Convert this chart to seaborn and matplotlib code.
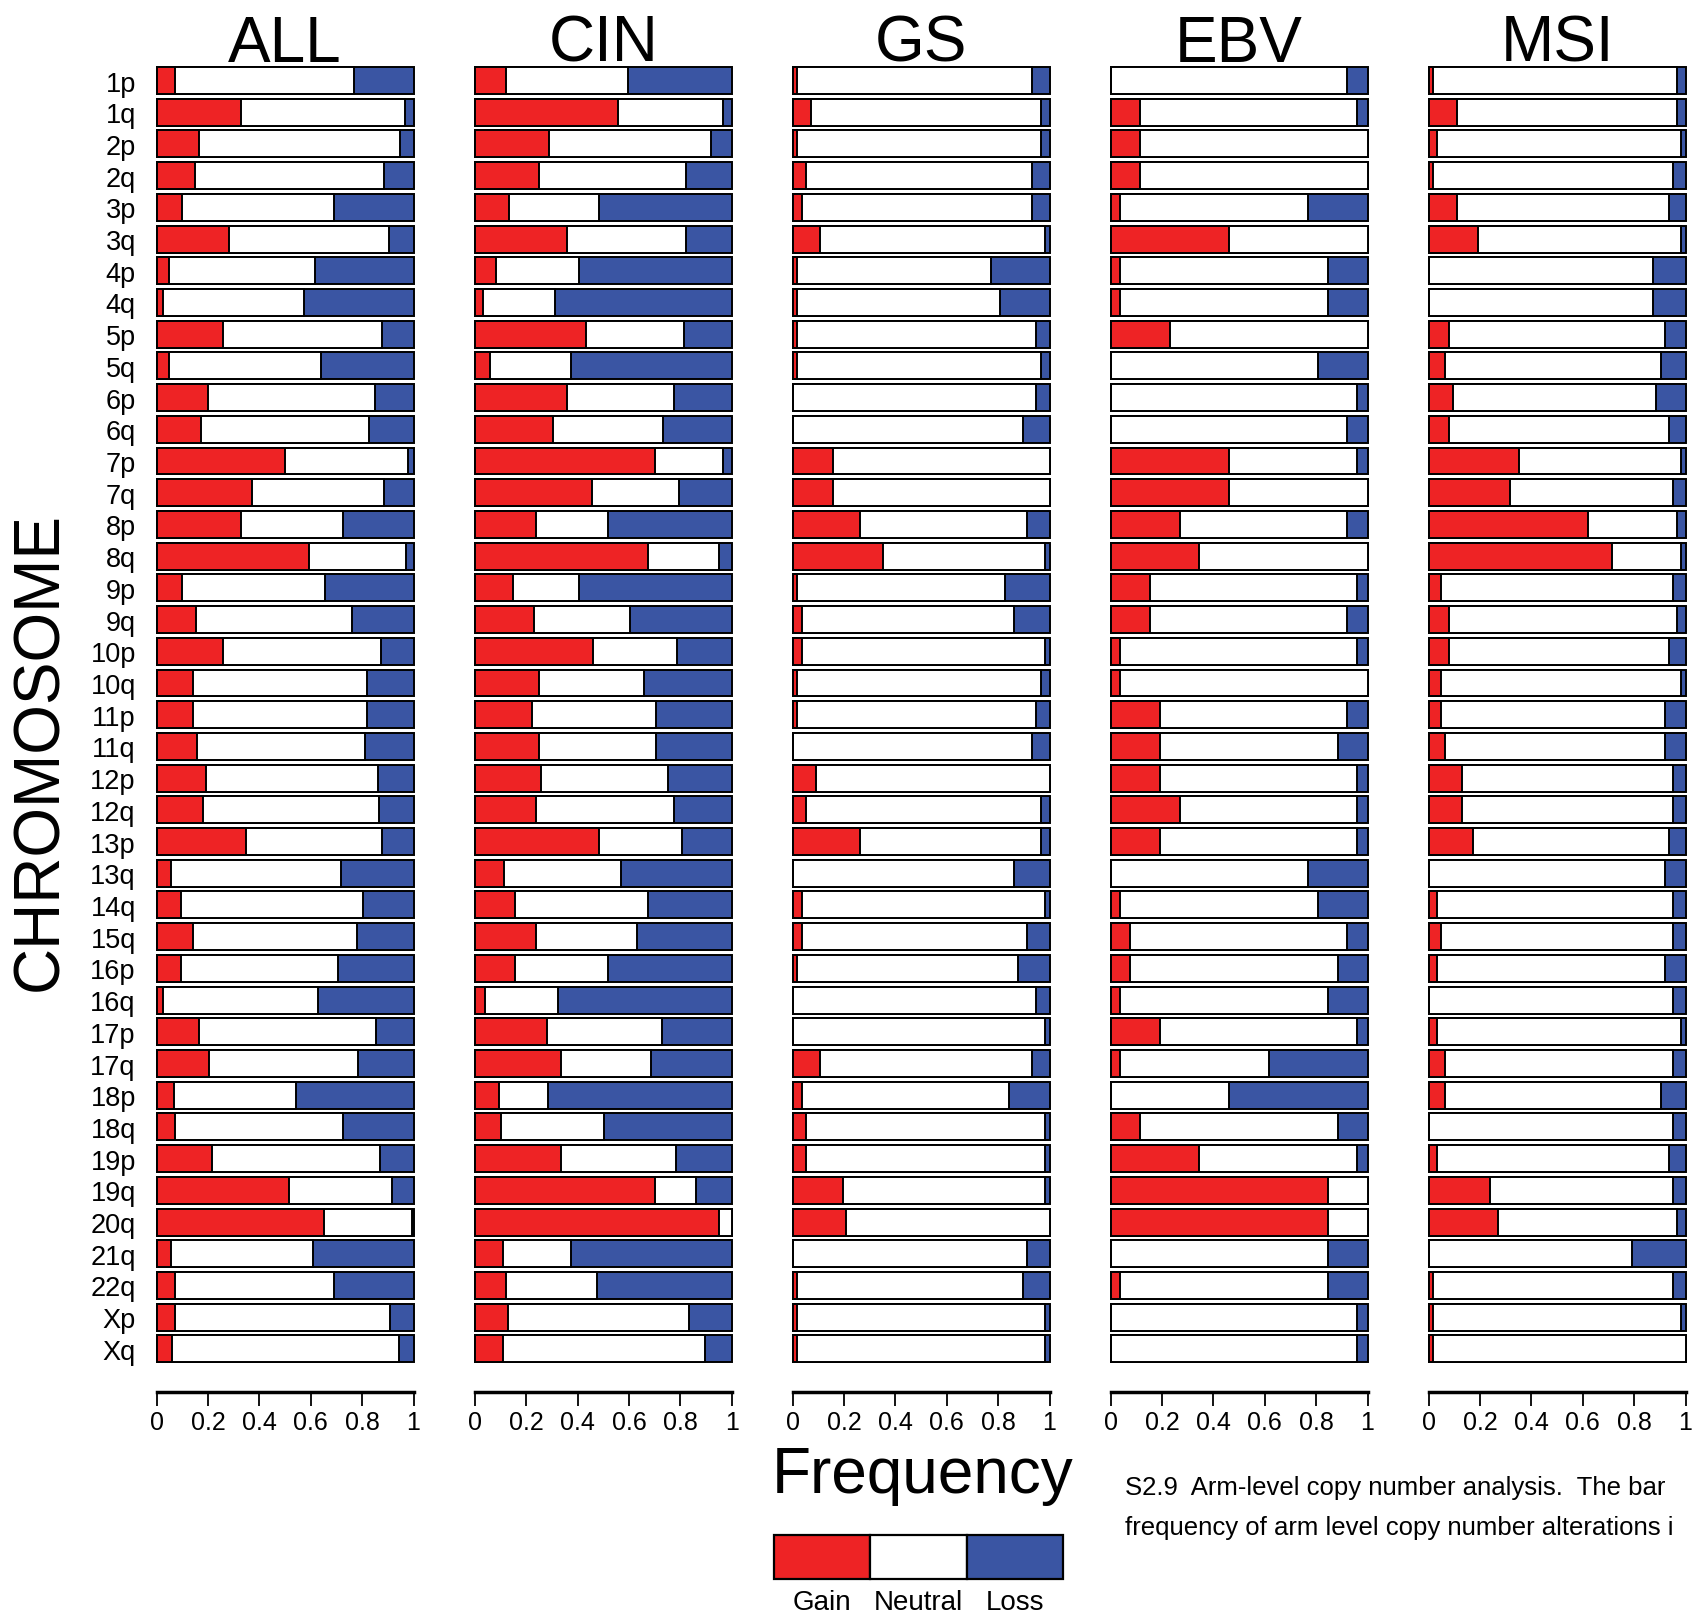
import matplotlib
matplotlib.use("Agg")
import matplotlib.pyplot as plt
from matplotlib.patches import Rectangle
import seaborn as sns
import pandas as pd

# ---------------- data ----------------
arms = ["1p", "1q", "2p", "2q", "3p", "3q", "4p", "4q", "5p", "5q",
        "6p", "6q", "7p", "7q", "8p", "8q", "9p", "9q", "10p", "10q",
        "11p", "11q", "12p", "12q", "13p", "13q", "14q", "15q", "16p", "16q",
        "17p", "17q", "18p", "18q", "19p", "19q", "20q", "21q", "22q", "Xp", "Xq"]

groups = ["ALL", "CIN", "GS", "EBV", "MSI"]

all_gain = [.07, .33, .166, .15, .10, .283, .048, .023, .26, .048, .20, .171, .499, .37, .329, .592, .10, .153, .26, .143,
            .143, .156, .191, .18, .348, .056, .095, .143, .095, .023, .164, .205, .069, .071, .214, .516, .652, .055, .071, .071, .061]
all_loss = [.23, .035, .052, .113, .308, .096, .382, .425, .121, .36, .151, .174, .023, .113, .273, .03, .345, .238, .126, .182,
            .182, .188, .138, .134, .121, .282, .195, .219, .294, .373, .147, .217, .457, .273, .13, .082, .006, .39, .308, .091, .058]

cin_gain = [.119, .556, .29, .249, .134, .36, .081, .032, .434, .06, .36, .305, .699, .455, .236, .673, .149, .231, .461, .251,
            .223, .251, .257, .236, .482, .114, .156, .236, .156, .039, .279, .334, .095, .101, .334, .699, .951, .108, .121, .127, .108]
cin_loss = [.403, .035, .082, .178, .519, .178, .594, .688, .186, .627, .226, .266, .036, .205, .483, .048, .594, .395, .212, .342,
            .294, .294, .247, .226, .192, .43, .327, .368, .484, .675, .273, .314, .716, .499, .219, .138, 0, .627, .525, .165, .104]

gs_gain = [.017, .07, .018, .052, .035, .106, .018, .018, .018, .018, 0, 0, .158, .158, .264, .351, .018, .035, .035, .018,
           .018, 0, .09, .052, .264, 0, .035, .035, .018, 0, 0, .106, .035, .052, .052, .194, .209, 0, .018, .018, .018]
gs_loss = [.069, .035, .035, .069, .069, .017, .227, .192, .053, .035, .053, .105, 0, 0, .088, .017, .175, .139, .017, .035,
           .053, .069, 0, .035, .035, .139, .017, .088, .123, .053, .017, .069, .157, .017, .017, .017, 0, .088, .105, .017, .017]

ebv_gain = [0, .114, .114, .114, .036, .462, .036, .036, .231, 0, 0, 0, .462, .462, .27, .345, .153, .153, .036, .036,
            .192, .192, .192, .27, .192, 0, .036, .075, .075, .036, .192, .036, 0, .114, .345, .847, .847, 0, .036, 0, 0]
ebv_loss = [.078, .039, 0, 0, .23, 0, .153, .153, 0, .191, .039, .078, .039, 0, .078, 0, .039, .078, .039, 0,
            .078, .116, .039, .039, .039, .23, .191, .078, .116, .153, .039, .383, .538, .116, .039, 0, 0, .153, .153, .039, .039]

msi_gain = [.016, .11, .031, .016, .11, .191, 0, 0, .08, .065, .096, .08, .35, .318, .619, .715, .048, .08, .08, .048,
            .048, .065, .128, .128, .174, 0, .031, .048, .031, 0, .031, .065, .065, 0, .031, .239, .27, 0, .016, .016, .016]
msi_loss = [.032, .032, .017, .048, .065, .017, .128, .128, .08, .096, .113, .065, .017, .048, .032, .017, .048, .032, .065, .017,
            .08, .08, .048, .048, .065, .08, .048, .048, .08, .048, .017, .048, .096, .048, .065, .048, .032, .208, .048, .017, 0]

gains = [all_gain, cin_gain, gs_gain, ebv_gain, msi_gain]
losses = [all_loss, cin_loss, gs_loss, ebv_loss, msi_loss]

xticks = [0, 0.2, 0.4, 0.6, 0.8, 1]
xticklabels = ["0", "0.2", "0.4", "0.6", "0.8", "1"]
legend_labels = ["Gain", "Neutral", "Loss"]

# ---------------- style ----------------
RED = "#EE2325"
BLUE = "#3A55A3"
WHITE = "#FFFFFF"
legend_colors = [RED, WHITE, BLUE]

sns.set_style("white")
plt.rcParams["font.family"] = ["Liberation Sans", "DejaVu Sans"]
plt.rcParams["text.color"] = "black"
plt.rcParams["xtick.color"] = "black"
plt.rcParams["ytick.color"] = "black"
plt.rcParams["axes.labelcolor"] = "black"

W, H = 1693, 1615
fig = plt.figure(figsize=(W / 100, H / 100), dpi=100)

lefts = [156.7, 475.0, 792.7, 1110.7, 1428.7]
pw = 256.8
ax_top, ax_bot = 60.0, 1393.0
row0, pitch = 81.5, 31.71
ylim_top = (ax_top - row0) / pitch
ylim_bot = (ax_bot - row0) / pitch

for i, (grp, g, l) in enumerate(zip(groups, gains, losses)):
    ax = fig.add_axes([lefts[i] / W, 1 - ax_bot / H, pw / W, (ax_bot - ax_top) / H])
    df = pd.DataFrame({"arm": arms, "gain": g, "loss": l})
    df["total"] = 1.0
    df["cum_neutral"] = 1.0 - df["loss"]
    kw = dict(y="arm", orient="h", saturation=1, width=0.85,
              edgecolor="black", linewidth=1.4, errorbar=None, ax=ax)
    sns.barplot(data=df, x="total", color=BLUE, **kw)
    sns.barplot(data=df, x="cum_neutral", color=WHITE, **kw)
    sns.barplot(data=df, x="gain", color=RED, **kw)
    for p in ax.patches:
        p.set_clip_on(False)
    ax.set_xlim(0, 1)
    ax.set_ylim(ylim_bot, ylim_top)
    ax.set_xlabel("")
    ax.set_ylabel("")
    ax.set_xticks(xticks)
    ax.set_xticklabels(xticklabels)
    ax.tick_params(axis="x", bottom=True, direction="out", length=10, width=1.3,
                   labelsize=18, pad=3, colors="black")
    for s in ["top", "right", "left"]:
        ax.spines[s].set_visible(False)
    ax.spines["bottom"].set_linewidth(2.5)
    ax.spines["bottom"].set_color("black")
    if i == 0:
        ax.tick_params(axis="y", left=False, length=0, labelsize=19.5, pad=15,
                       colors="black")
    else:
        ax.set_yticks([])
    fig.text((lefts[i] + pw / 2) / W, 1 - 62 / H, grp, ha="center", va="baseline",
             fontsize=46, color="black")

# axis titles
fig.text(40 / W, 1 - 752 / H, "CHROMOSOME", rotation=90, ha="center", va="center",
         fontsize=46, color="black")
fig.text(923 / W, 1 - 1493 / H, "Frequency", ha="center", va="baseline", fontsize=46,
         color="black")

# legend
lx, ly, lw, lh = 774, 1536, 96.3, 44
for k, (lab, col) in enumerate(zip(legend_labels, legend_colors)):
    x0 = lx + k * lw
    fig.patches.append(Rectangle((x0 / W, 1 - (ly + lh) / H), lw / W, lh / H,
                                 transform=fig.transFigure, facecolor=col,
                                 edgecolor="black", linewidth=1.6))
    fig.text((x0 + lw / 2) / W, 1 - 1610 / H, lab, ha="center", va="baseline",
             fontsize=20, color="black")

# caption (cut off at the right edge like the source)
fig.text(1125 / W, 1 - 1495 / H, "S2.9  Arm-level copy number analysis.  The bar",
         ha="left", va="baseline", fontsize=18.5, color="black")
fig.text(1125 / W, 1 - 1535 / H, "frequency of arm level copy number alterations i",
         ha="left", va="baseline", fontsize=18.5, color="black")

fig.savefig("out.png", dpi=100)
